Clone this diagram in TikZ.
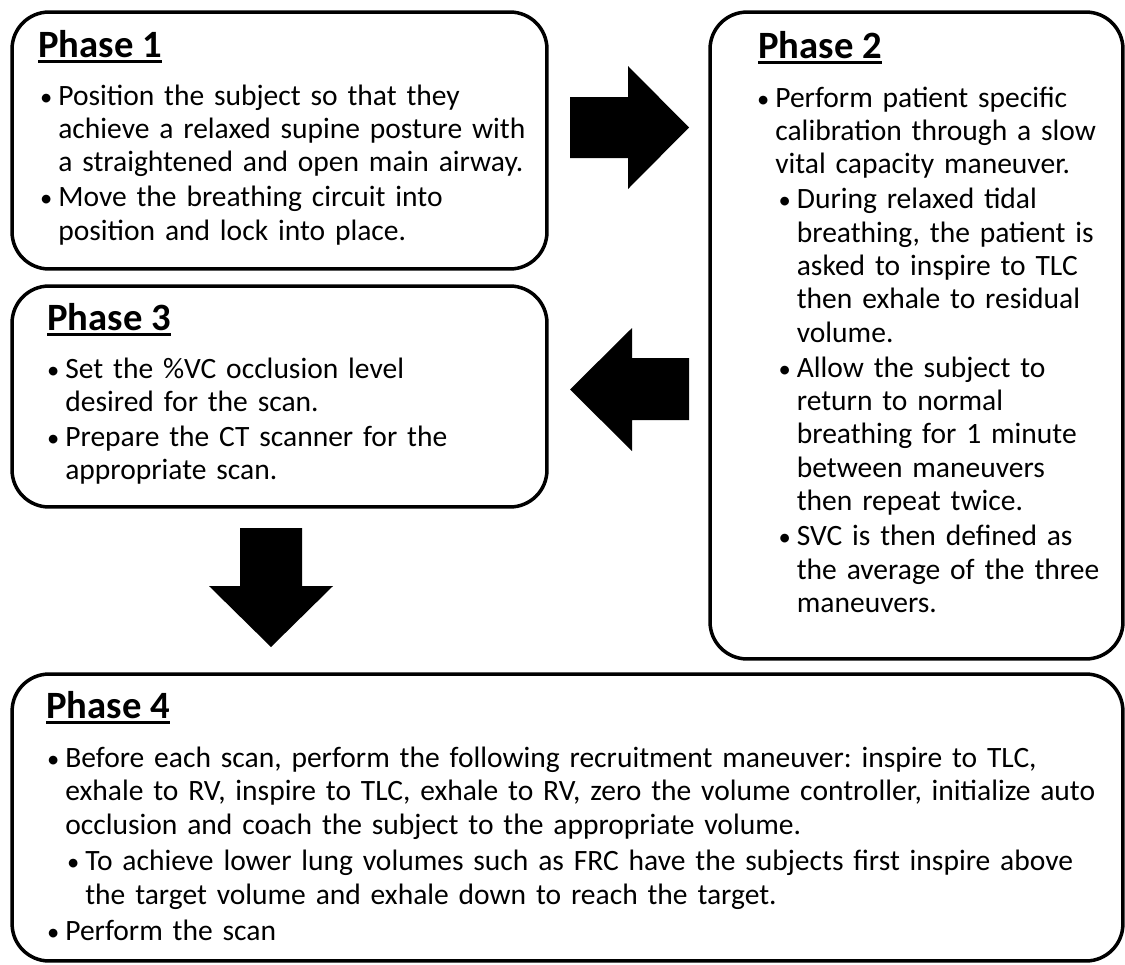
\documentclass[tikz,border=0pt]{standalone}
\usepackage{fontspec}
\setmainfont{Carlito}
\usepackage{tikz}
\usetikzlibrary{positioning}

% underlined phase title
\newcommand{\phaseul}[1]{\setbox0=\hbox{#1}\rlap{\rule[-0.11cm]{\wd0}{0.045cm}}\box0}
% bullet item: #1 = extra indent, #2 = text
\newcommand{\pitem}[2]{\parskip=0.04cm\leftskip=#1\hangindent=0.34cm\hangafter=1\noindent\hbox to 0.34cm{\hss{\fontsize{14}{14}\selectfont\textbullet}\hskip 0.12cm}#2\par}

\begin{document}
\begin{tikzpicture}[
        x=0.02cm, y=-0.02cm,
        phase/.style={draw, line width=2pt, rounded corners=0.74cm, inner sep=0pt},
        head/.style={anchor=base west, inner sep=0pt, font=\fontsize{22}{26}\selectfont\bfseries},
        body/.style={anchor=base west, inner sep=0pt, align=left, font=\fontsize{16.8}{18.95}\selectfont\frenchspacing},
        bigarrow/.style={fill=black}
    ]
    \useasboundingbox (0,0) rectangle (1125,964);

    % Phase boxes
    \node [phase, minimum width=10.70cm, minimum height=5.14cm] (p1) at (279.5,140.5) {};
    \node [phase, minimum width=8.26cm, minimum height=12.94cm] (p2) at (916.5,335.5) {};
    \node [phase, minimum width=10.70cm, minimum height=4.42cm] (p3) at (279.5,396.5) {};
    \node [phase, minimum width=22.22cm, minimum height=5.74cm] (p4) at (567.5,817.5) {};

    % Phase 1
    \node [head] (p1head) at (38,57) {\phaseul{Phase 1}};
    \node [body, text width=10cm] (p1body) at (41,105) {%
        \pitem{0cm}{Position the subject so that they\newline achieve a relaxed supine posture with\newline a straightened and open main airway.}%
        \pitem{0cm}{Move the breathing circuit into\newline position and lock into place.}};

    % Phase 2
    \node [head] (p2head) at (758,58) {\phaseul{Phase 2}};
    \node [body, text width=7.4cm] (p2body) at (758,107) {%
        \pitem{0cm}{Perform patient specific\newline calibration through a slow\newline vital capacity maneuver.}%
        \pitem{0.43cm}{During relaxed tidal\newline breathing, the patient is\newline asked to inspire to TLC\newline then exhale to residual\newline volume.}%
        \pitem{0.43cm}{Allow the subject to\newline return to normal\newline breathing for 1 minute\newline between maneuvers\newline then repeat twice.}%
        \pitem{0.43cm}{SVC is then defined as\newline the average of the three\newline maneuvers.}};

    % Phase 3
    \node [head] (p3head) at (47,330) {\phaseul{Phase 3}};
    \node [body, text width=10cm] (p3body) at (48,378) {%
        \pitem{0cm}{Set the \%VC occlusion level\newline desired for the scan.}%
        \pitem{0cm}{Prepare the CT scanner for the\newline appropriate scan.}};

    % Phase 4
    \node [head] (p4head) at (46,718) {\phaseul{Phase 4}};
    \node [body, text width=21.6cm, font=\fontsize{16.8}{19.3}\selectfont\frenchspacing] (p4body) at (48,767) {%
        \pitem{0cm}{Before each scan, perform the following recruitment maneuver: inspire to TLC,\newline exhale to RV, inspire to TLC, exhale to RV, zero the volume controller, initialize auto\newline occlusion and coach the subject to the appropriate volume.}%
        \pitem{0.40cm}{To achieve lower lung volumes such as FRC have the subjects first inspire above\newline the target volume and exhale down to reach the target.}%
        \pitem{0cm}{Perform the scan}};

    % Block arrows between the phases
    % 1 -> 2
    \fill [bigarrow] (570,97) -- (628,97) -- (628,66) -- (689,127.5) -- (628,189) -- (628,158) -- (570,158) -- cycle;
    % 2 -> 3
    \fill [bigarrow] (689,358) -- (632,358) -- (632,328) -- (570,389.5) -- (632,451) -- (632,420) -- (689,420) -- cycle;
    % 3 -> 4
    \fill [bigarrow] (240,528) -- (302,528) -- (302,586) -- (333,586) -- (271,647) -- (209,586) -- (240,586) -- cycle;

\end{tikzpicture}
\end{document}
